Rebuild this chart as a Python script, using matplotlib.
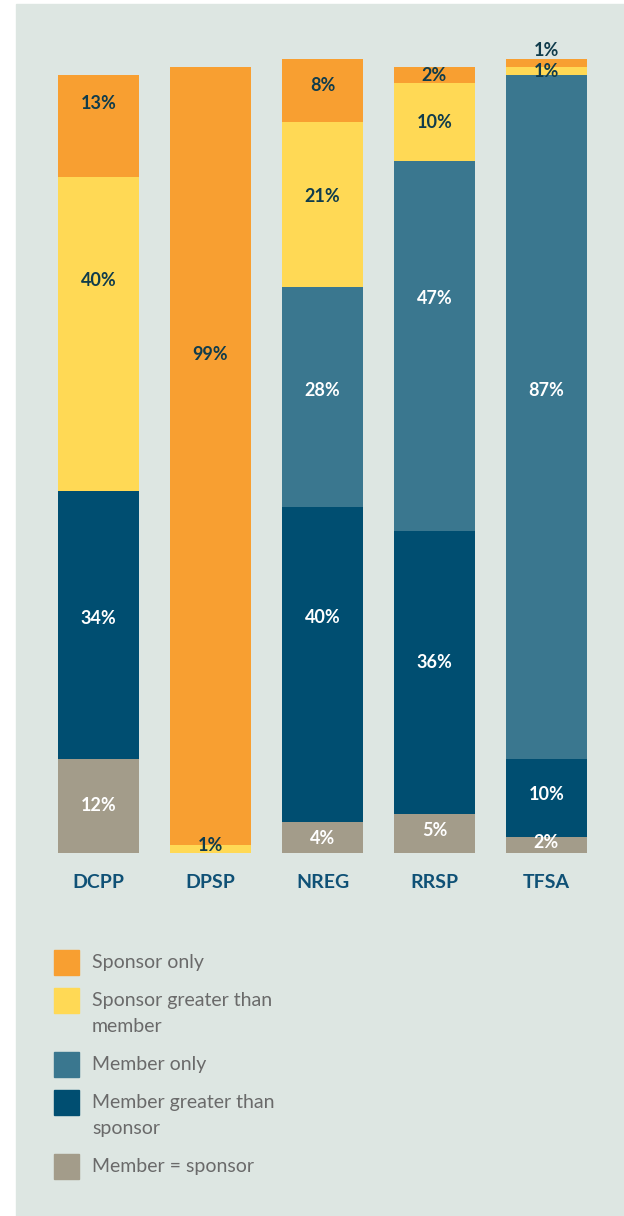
import matplotlib
matplotlib.use("Agg")
import matplotlib.pyplot as plt
from matplotlib.patches import Rectangle
import numpy as np

# --- data ---
categories = ['DCPP', 'DPSP', 'NREG', 'RRSP', 'TFSA']

# stacked bottom -> top
member_eq_sponsor = [12, 0, 4, 5, 2]
member_gt_sponsor = [34, 0, 40, 36, 10]
member_only = [0, 0, 28, 47, 87]
sponsor_gt_member = [40, 1, 21, 10, 1]
sponsor_only = [13, 99, 8, 2, 1]

series_names = ['Member = sponsor', 'Member greater than\nsponsor', 'Member only',
                'Sponsor greater than\nmember', 'Sponsor only']
series_values = [member_eq_sponsor, member_gt_sponsor, member_only,
                 sponsor_gt_member, sponsor_only]

# --- layout / style ---
colors = ['#A39C8A', '#004E71', '#3A778F', '#FFD955', '#F89F31']
label_colors = ['white', 'white', 'white', '#103C4C', '#103C4C']
# label heights (in % units) as placed in the original
label_y = [
    [6.1, None, 1.9, 2.9, 1.3],
    [29.8, None, 29.9, 24.2, 7.5],
    [None, None, 58.8, 70.6, 58.8],
    [72.8, 1.0, 83.5, 93.0, 99.4],
    [95.4, 63.4, 97.6, 98.9, 102.1],
]
BG = '#DDE6E2'
W, H = 624, 1216
PX = 7.86  # pixels per percent

fig = plt.figure(figsize=(W / 100, H / 100), dpi=100)
fig.patch.set_facecolor('white')
fig.patches.append(Rectangle((16 / W, 0), 1 - 16 / W, 1 - 4 / H,
                             transform=fig.transFigure, color=BG, zorder=-5))

ymax = 104
ax_left, ax_right = 42.5, 602.5
ax_bottom = 853
ax = fig.add_axes([ax_left / W, (H - ax_bottom) / H,
                   (ax_right - ax_left) / W, ymax * PX / H])
ax.set_facecolor('none')
ax.set_xlim(-0.5, 4.5)
ax.set_ylim(0, ymax)
ax.axis('off')

x = np.arange(len(categories))
bottom = np.zeros(len(categories))
for vals, col, lcol, ly in zip(series_values, colors, label_colors, label_y):
    ax.bar(x, vals, bottom=bottom, width=0.723, color=col, linewidth=0)
    for i, v in enumerate(vals):
        if v > 0 and ly[i] is not None:
            tc = lcol
            if ly[i] > bottom[i] + v + 0.5:
                tc = '#103C4C'
            ax.text(x[i], ly[i], f'{v}%', ha='center', va='center',
                    color=tc, fontsize=13, fontweight='bold', family='Lato')
    bottom += np.array(vals)

for i, c in enumerate(categories):
    ax.text(x[i], -29 / PX, c, ha='center', va='center', color='#0F5176',
            fontsize=14, fontweight='bold', family='Lato', clip_on=False)

# --- legend ---
top = 950
for name, col in reversed(list(zip(series_names, colors))):
    fig.patches.append(Rectangle((54 / W, 1 - (top + 25) / H), 25 / W, 25 / H,
                                 transform=fig.transFigure, color=col, zorder=2))
    fig.text(92 / W, 1 - (top + 4) / H, name, ha='left', va='top',
             color='#6A6A6A', fontsize=14, family='Lato', linespacing=1.65)
    top += 38 + 26 * name.count('\n')

fig.savefig('out.png', dpi=100, facecolor=fig.get_facecolor())
